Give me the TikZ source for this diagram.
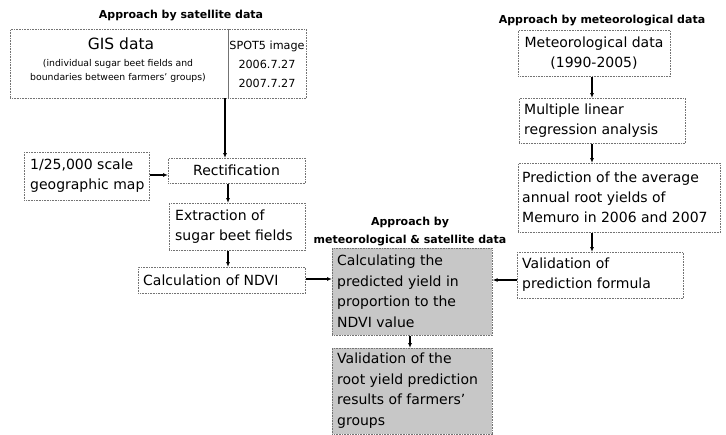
\documentclass[tikz,border=0pt]{standalone}
\usepackage{fontspec}
\setmainfont{DejaVu Sans}
\usetikzlibrary{arrows.meta}
\definecolor{boxline}{gray}{0.45}
\definecolor{shade}{gray}{0.78}
\tikzset{
  bx/.style={draw=boxline, line width=0.6pt, densely dotted, inner sep=3pt},
  tx/.style={inner sep=0pt, font=\fontsize{14}{20}\selectfont},
  ttl/.style={inner sep=0pt, font=\bfseries\fontsize{11}{13}\selectfont},
  arr/.style={-{Latex[length=5pt,width=4pt]}, line width=1.1pt, black},
}
\newcommand{\boxat}[6]{% name, x1,y1,x2,y2, style
  \node[bx, #6, minimum width=#4-#2, minimum height=#5-#3, anchor=north west] (#1) at (#2,#3) {};}
\begin{document}
\begin{tikzpicture}[x=1pt,y=-1pt]
\useasboundingbox (0,0) rectangle (726,434);
% titles
\node[ttl] (t1) at (181,16) {Approach by satellite data};
\node[ttl] (t2) at (602,21) {Approach by meteorological data};
\node[ttl, align=center, font=\bfseries\fontsize{11}{18}\selectfont] (t3) at (410,232) {Approach by\\meteorological \& satellite data};
% left column
\boxat{gis}{10}{29}{228}{98}{}
\node[tx, anchor=north, font=\fontsize{15.5}{18}\selectfont] (gist) at (121,38) {GIS data};
\node[tx, anchor=north, align=center, font=\fontsize{9.3}{14}\selectfont] (giss) at (118,59) {(individual sugar beet fields and\\boundaries between farmers' groups)};
\boxat{spot}{228}{29}{306}{98}{}
\node[tx, align=center, font=\fontsize{11.2}{19}\selectfont] (spott) at (267,64) {SPOT5 image\\2006.7.27\\2007.7.27};
\boxat{map}{24}{152}{149}{200}{}
\node[tx, align=left, anchor=west] (mapt) at (30,176) {1/25,000 scale\\geographic map};
\boxat{rect}{168}{158}{305}{183}{}
\node[tx] (rectt) at (236.5,170.5) {Rectification};
\boxat{extr}{169}{203}{305}{250}{}
\node[tx, align=left, anchor=west] (extrt) at (175,226.5) {Extraction of\\sugar beet fields};
\boxat{ndvi}{138}{267}{305}{293}{}
\node[tx, anchor=west] (ndvit) at (143,280) {Calculation of NDVI};
% middle
\boxat{calc}{332}{248}{492}{335}{fill=shade}
\node[tx, align=left, anchor=west, font=\fontsize{14}{20.5}\selectfont] (calct) at (337,291.5) {Calculating the\\predicted yield in\\proportion to the\\NDVI value};
\boxat{valid}{332}{348}{492}{433.5}{fill=shade}
\node[tx, align=left, anchor=north west, font=\fontsize{14}{20.5}\selectfont] (validt) at (337,353) {Validation of the\\root yield prediction\\results of farmers'\\groups};
% right column
\boxat{met}{518}{30}{670}{76}{}
\node[tx, align=center] (mett) at (594,53) {Meteorological data\\(1990-2005)};
\boxat{mlr}{519}{98}{685}{143}{}
\node[tx, align=left, anchor=west] (mlrt) at (524,120.5) {Multiple linear\\regression analysis};
\boxat{pred}{518}{163}{720}{232}{}
\node[tx, align=left, anchor=west] (predt) at (522,197.5) {Prediction of the average\\annual root yields of\\Memuro in 2006 and 2007};
\boxat{vpf}{517}{252}{683}{298}{}
\node[tx, align=left, anchor=west] (vpft) at (522,275) {Validation of\\prediction formula};
% connectors
\coordinate (a1) at (225,98);
\coordinate (a1e) at (225,158);
\draw[arr] (a1) -- (a1e);
\draw[arr] (map.east |- 0,175) -- (rect.west |- 0,175);
\draw[arr] (rect.south -| 228,0) -- (extr.north -| 228,0);
\draw[arr] (extr.south -| 228,0) -- (ndvi.north -| 228,0);
\draw[arr] (ndvi.east |- 0,279) -- (calc.west |- 0,279);
\draw[arr] (calc.south -| 410,0) -- (valid.north -| 410,0);
\draw[arr] (met.south -| 592,0) -- (mlr.north -| 592,0);
\draw[arr] (mlr.south -| 592,0) -- (pred.north -| 592,0);
\draw[arr] (pred.south -| 592,0) -- (vpf.north -| 592,0);
\draw[arr] (vpf.west |- 0,280) -- (calc.east |- 0,280);
\end{tikzpicture}
\end{document}
